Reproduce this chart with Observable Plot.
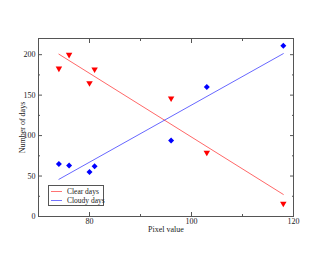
<!DOCTYPE html>
<html>
<head>
<meta charset="utf-8">
<script src="https://cdn.jsdelivr.net/npm/d3@7"></script>
<script src="https://cdn.jsdelivr.net/npm/@observablehq/plot@0.6"></script>
<style>
  html, body { margin: 0; padding: 0; background: #fff; }
  #wrap { position: relative; width: 330px; height: 255px; }
  #legend {
    position: absolute; left: 48px; top: 185px; width: 56px; height: 21px;
    border: 1px solid #555; background: #fff;
    font-family: "Liberation Serif", serif; font-size: 7.5px; color: #222;
    box-sizing: border-box;
  }
  #legend .row { position: absolute; left: 0; height: 9px; line-height: 9px; white-space: nowrap; }
  #legend .sw { position: absolute; left: 2px; top: 4px; width: 11px; height: 1px; }
  #legend .lb { position: absolute; left: 18px; top: 0; }
</style>
</head>
<body>
<div id="wrap"></div>
<script>
const pixelValues = [74, 76, 80, 81, 96, 103, 118];
const clearDays   = [183, 200, 165, 182, 146, 79, 16];
const cloudyDays  = [65, 63, 55, 62, 94, 160, 211];
const seriesNames = ["Clear days", "Cloudy days"];
const seriesColors = ["#ff0000", "#0000ff"];
const xMajor = [80, 100, 120];
const xMinor = [90, 110];
const yMajor = [0, 50, 100, 150, 200];
const yMinor = [25, 75, 125, 175];

const clear = pixelValues.map((x, i) => ({x, y: clearDays[i]}));
const cloudy = pixelValues.map((x, i) => ({x, y: cloudyDays[i]}));

const axisColor = "#555";
const blank = () => "";

const chart = Plot.plot({
  width: 330,
  height: 255,
  marginLeft: 38,
  marginRight: 37,
  marginTop: 38,
  marginBottom: 39,
  style: {fontFamily: "Liberation Serif, serif", fontSize: "8px", color: "#222", background: "#fff"},
  x: {domain: [70, 120]},
  y: {domain: [0, 220]},
  marks: [
    Plot.axisX(xMajor, {anchor: "bottom", tickSize: -4, tickPadding: 6, stroke: axisColor, label: "Pixel value", labelAnchor: "center", labelOffset: 15, labelArrow: "none"}),
    Plot.axisX(xMinor, {anchor: "bottom", tickSize: -2, stroke: axisColor, tickFormat: blank, label: null}),
    Plot.axisX(xMajor, {anchor: "top", tickSize: -4, stroke: axisColor, tickFormat: blank, label: null}),
    Plot.axisX(xMinor, {anchor: "top", tickSize: -2, stroke: axisColor, tickFormat: blank, label: null}),
    Plot.axisY(yMajor, {anchor: "left", tickSize: -4, tickPadding: 7, stroke: axisColor, label: "Number of days", labelAnchor: "center", labelOffset: 19, labelArrow: "none"}),
    Plot.axisY(yMinor, {anchor: "left", tickSize: -2, stroke: axisColor, tickFormat: blank, label: null}),
    Plot.axisY(yMajor, {anchor: "right", tickSize: -4, stroke: axisColor, tickFormat: blank, label: null}),
    Plot.axisY(yMinor, {anchor: "right", tickSize: -2, stroke: axisColor, tickFormat: blank, label: null}),
    Plot.frame({stroke: axisColor}),
    Plot.linearRegressionY(clear, {x: "x", y: "y", stroke: seriesColors[0], strokeWidth: 0.8, strokeOpacity: 0.75, ci: 0}),
    Plot.linearRegressionY(cloudy, {x: "x", y: "y", stroke: seriesColors[1], strokeWidth: 0.8, strokeOpacity: 0.75, ci: 0}),
    Plot.dot(clear, {x: "x", y: "y", symbol: "triangle", rotate: 180, r: 2.4, fill: seriesColors[0], stroke: "none"}),
    Plot.dot(cloudy, {x: "x", y: "y", symbol: "diamond2", r: 2.7, fill: seriesColors[1], stroke: "none"})
  ]
});

const wrap = document.getElementById("wrap");
wrap.appendChild(chart);

const legend = document.createElement("div");
legend.id = "legend";
seriesNames.forEach((name, i) => {
  const row = document.createElement("div");
  row.className = "row";
  row.style.top = (1 + i * 9) + "px";
  row.innerHTML = `<span class="sw" style="background:${seriesColors[i]};opacity:0.55"></span><span class="lb">${name}</span>`;
  row.style.width = "100%";
  legend.appendChild(row);
});
wrap.appendChild(legend);
</script>
</body>
</html>
